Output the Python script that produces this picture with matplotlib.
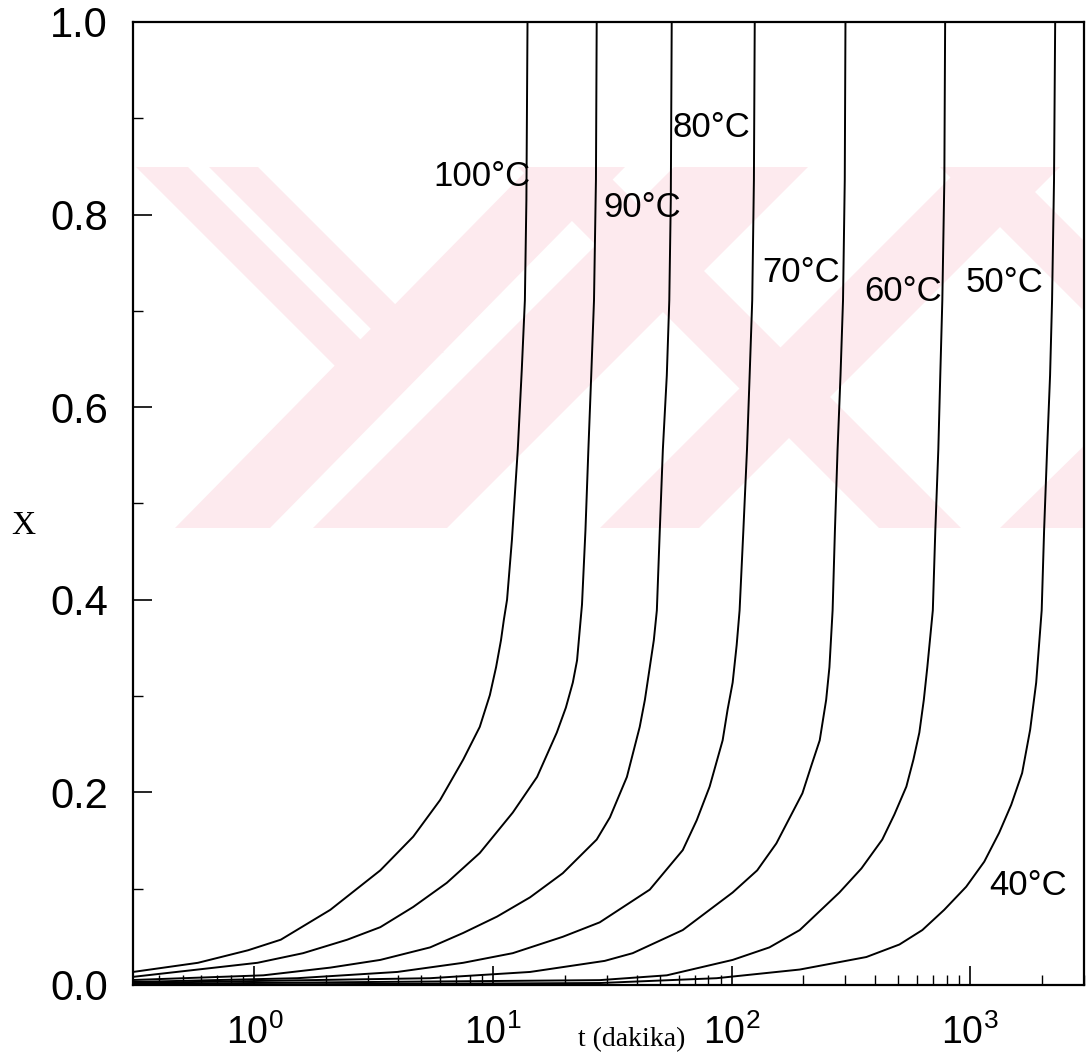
import matplotlib
matplotlib.use('Agg')
import matplotlib.pyplot as plt
from matplotlib.patches import Polygon
from matplotlib.ticker import MultipleLocator, FormatStrFormatter

plt.rcParams['font.family'] = ['Liberation Sans', 'DejaVu Sans']
plt.rcParams['mathtext.fontset'] = 'custom'
plt.rcParams['mathtext.rm'] = 'Liberation Sans'
plt.rcParams['mathtext.it'] = 'Liberation Sans:italic'

# t (dakika) and conversion X, one pair per temperature
t_100 = [0.30, 0.58, 0.94, 1.29, 2.08, 3.37, 4.63, 6.0, 7.5, 8.8, 9.7, 10.3, 10.8, 11.1,
         11.45, 12.0, 12.7, 13.2, 13.6, 13.8, 13.95]
x_100 = [0.013, 0.023, 0.036, 0.047, 0.078, 0.119, 0.154, 0.192, 0.234, 0.268, 0.301, 0.330,
         0.358, 0.379, 0.400, 0.462, 0.556, 0.639, 0.711, 0.815, 1.0]

t_90 = [0.30, 1.03, 1.60, 2.45, 3.37, 4.63, 6.4, 8.8, 12.1, 15.3, 18.5, 20.2, 21.6, 22.5,
        23.1, 23.6, 24.4, 25.1, 25.8, 26.5, 27.0, 27.2]
x_90 = [0.008, 0.023, 0.033, 0.047, 0.060, 0.081, 0.106, 0.137, 0.179, 0.216, 0.262, 0.288,
        0.314, 0.337, 0.369, 0.395, 0.472, 0.556, 0.633, 0.711, 0.836, 1.0]

t_80 = [0.30, 1.09, 2.08, 3.37, 5.45, 7.5, 10.4, 14.3, 19.6, 27.2, 30.9, 36.4, 41.2, 43.3,
        45.4, 47.2, 48.6, 50.0, 51.5, 53.5, 54.8, 55.6, 56.1]
x_80 = [0.005, 0.010, 0.018, 0.026, 0.039, 0.054, 0.071, 0.091, 0.116, 0.151, 0.174, 0.216,
        0.268, 0.296, 0.330, 0.358, 0.389, 0.472, 0.556, 0.633, 0.711, 0.815, 1.0]

t_70 = [0.30, 1.51, 3.97, 7.5, 12.1, 19.6, 28.0, 45.4, 62.4, 71.4, 80.9, 91.7, 96.2, 101,
        105, 108, 112, 116, 119, 122, 124, 125]
x_70 = [0.003, 0.007, 0.0135, 0.023, 0.033, 0.050, 0.065, 0.099, 0.140, 0.171, 0.206, 0.254,
        0.286, 0.314, 0.353, 0.389, 0.472, 0.556, 0.633, 0.711, 0.836, 1.0]

t_60 = [0.30, 5.45, 14.3, 29.4, 38.5, 62.4, 101, 128, 154, 198, 216, 234, 249, 257, 265,
        271, 278, 286, 293, 298, 300]
x_60 = [0.002, 0.007, 0.0135, 0.025, 0.033, 0.057, 0.096, 0.119, 0.147, 0.199, 0.228, 0.254,
        0.296, 0.330, 0.389, 0.472, 0.556, 0.633, 0.711, 0.836, 1.0]

t_50 = [0.30, 28.0, 53.5, 101, 144, 193, 283, 350, 428, 481, 540, 578, 612, 639, 661, 697,
        714, 735, 749, 764, 779, 785]
x_50 = [0.001, 0.005, 0.010, 0.026, 0.039, 0.057, 0.096, 0.121, 0.151, 0.177, 0.206, 0.234,
        0.262, 0.296, 0.330, 0.389, 0.472, 0.556, 0.633, 0.711, 0.836, 1.0]

t_40 = [0.30, 28.0, 86.5, 193, 367, 505, 630, 778, 962, 1145, 1322, 1485, 1650, 1783, 1890,
        1993, 2040, 2100, 2161, 2203, 2245, 2270]
x_40 = [0.0, 0.002, 0.007, 0.016, 0.029, 0.042, 0.057, 0.078, 0.102, 0.128, 0.158, 0.187,
        0.220, 0.265, 0.314, 0.389, 0.472, 0.556, 0.633, 0.711, 0.836, 1.0]

series = [(t_100, x_100), (t_90, x_90), (t_80, x_80), (t_70, x_70),
          (t_60, x_60), (t_50, x_50), (t_40, x_40)]

# curve labels: text, t, X, alignment
labels = ['100°C', '90°C', '80°C', '70°C', '60°C', '50°C', '40°C']
label_t = [14.3, 29.1, 56.6, 134, 360, 953, 1201]
label_x = [0.839, 0.807, 0.890, 0.740, 0.720, 0.729, 0.103]
label_ha = ['right', 'left', 'left', 'left', 'left', 'left', 'left']

W, H = 1087, 1055
fig = plt.figure(figsize=(W / 100, H / 100), dpi=100)
ax = fig.add_axes([0.1224, 0.0664, 0.8749, 0.9128])

# faint pink watermark of the scanned page (pixel outlines of the stripes)
stamp = [
    [(136, 167), (188, 167), (362, 341), (336, 367)],
    [(209, 167), (258, 167), (444, 353), (372, 330)],
    [(175, 528), (270, 528), (625, 167), (530, 167)],
    [(313, 528), (447, 528), (808, 167), (674, 167)],
    [(518, 167), (600, 167), (961, 528), (879, 528)],
    [(600, 528), (699, 528), (1060, 167), (961, 167)],
    [(940, 167), (1010, 167), (1371, 528), (1301, 528)],
    [(1000, 528), (1090, 528), (1090, 440)],
]
for poly in stamp:
    pts = [(px / W, 1 - py / H) for px, py in poly]
    ax.add_patch(Polygon(pts, closed=True, transform=fig.transFigure,
                         facecolor='#fdeaee', edgecolor='none', zorder=0))

for t, x in series:
    ax.plot(t, x, color='black', lw=1.4, zorder=2)

for s, t, x, ha in zip(labels, label_t, label_x, label_ha):
    ax.text(t, x, s, ha=ha, va='center', fontsize=25, zorder=3)

ax.set_xscale('log')
ax.set_xlim(0.31, 3000)
ax.set_ylim(0, 1.0)
ax.yaxis.set_major_locator(MultipleLocator(0.2))
ax.yaxis.set_minor_locator(MultipleLocator(0.1))
ax.yaxis.set_major_formatter(FormatStrFormatter('%.1f'))

ax.tick_params(which='both', direction='in', top=False, right=False)
ax.tick_params(which='major', length=14, width=1.2)
ax.tick_params(which='minor', length=7, width=1.0)
ax.tick_params(axis='x', which='major', pad=21, labelsize=27)
ax.tick_params(axis='y', which='major', pad=18, labelsize=30)
for sp in ax.spines.values():
    sp.set_linewidth(1.6)

fig.text(632 / W, 1 - 1040 / H, 't (dakika)', ha='center', va='center',
         fontsize=20, family='Liberation Serif')
fig.text(23 / W, 1 - 526 / H, 'X', ha='center', va='center',
         fontsize=24, family='Liberation Serif')

fig.savefig('out.png', dpi=100)
